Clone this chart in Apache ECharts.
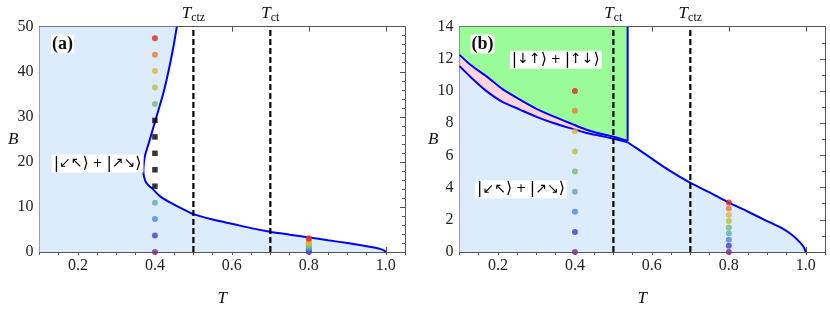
<!DOCTYPE html>
<html><head><meta charset="utf-8">
<script src="https://cdn.jsdelivr.net/npm/echarts@6/dist/echarts.min.js"></script>
<style>html,body{margin:0;padding:0;background:#fff}#c{width:830px;height:312px}</style>
</head><body><div id="c"></div>
<script>
// ---- data ----
const xMin = 0.1, xMax = 1.05;
const xMajorTicks = [0.2, 0.4, 0.6, 0.8, 1.0];
const aYMax = 50, bYMax = 14;

// panel (a) phase boundary
const aCurveT = [1.0, 0.995, 0.985, 0.97, 0.94, 0.9, 0.85, 0.8, 0.75, 0.699, 0.65, 0.603, 0.55, 0.5, 0.465, 0.439, 0.413, 0.395, 0.378, 0.372, 0.370, 0.371, 0.374, 0.387, 0.404, 0.422, 0.435, 0.448, 0.457];
const aCurveB = [0, 0.35, 0.7, 1.0, 1.45, 2.0, 2.6, 3.24, 3.85, 4.5, 5.3, 6.2, 7.2, 8.4, 9.85, 11.0, 12.4, 13.9, 15.3, 16.6, 18.0, 19.5, 21.3, 25, 30, 35.3, 40, 45.5, 50];

// panel (b) boundaries
const bUpperT = [0.1, 0.13, 0.171, 0.21, 0.257, 0.3, 0.344, 0.39, 0.43, 0.47, 0.5, 0.537];
const bUpperB = [12.25, 11.6, 10.9, 10.15, 9.47, 8.9, 8.43, 7.98, 7.6, 7.33, 7.16, 6.9];
const bLowerT = [0.1, 0.13, 0.171, 0.21, 0.257, 0.3, 0.344, 0.39, 0.43, 0.47, 0.5, 0.537];
const bLowerB = [11.55, 10.85, 9.98, 9.35, 8.85, 8.4, 8.02, 7.68, 7.4, 7.2, 7.04, 6.82];
const bRightT = [0.537, 0.56, 0.6, 0.638, 0.699, 0.75, 0.8, 0.85, 0.898, 0.94, 0.967, 0.985, 0.995, 1.0];
const bRightB = [6.82, 6.45, 5.8, 5.18, 4.31, 3.7, 3.07, 2.5, 1.94, 1.45, 1.01, 0.6, 0.3, 0];
const bVertT = [0.537, 0.537];
const bVertB = [6.9, 14];

// dashed critical temperatures
const aDashT = [0.5, 0.7];
const aDashNames = ['ctz', 'ct'];
const bDashT = [0.5, 0.7];
const bDashNames = ['ct', 'ctz'];

// dots
const dotColors = ['#7a2a8a', '#4b3fc0', '#4a8ae0', '#5fb0a8', '#7dbb65', '#b8c23c', '#e3b43c', '#ea7d2e', '#dc2a24'];
const aColT1 = 0.4;
const aColDotB = [0, 3.65, 7.3, 10.95, 32.85, 36.5, 40.15, 43.8, 47.45];
const aColSquareB = [14.6, 18.25, 21.9, 25.55, 29.2];
const colT2 = 0.8;
const col2B = [0, 0.39, 0.76, 1.16, 1.53, 1.92, 2.3, 2.7, 3.07];
const bColDotB = [0, 1.25, 2.5, 3.75, 5.0, 6.25, 7.5, 8.78, 10.0];

// ---- helpers ----
const zip = (xs, ys) => xs.map((x, i) => [x, ys[i]]);
const FRAME = '#555';
const SERIF = '"Liberation Serif", "DejaVu Serif", serif';

function polySeries(xi, yi, pts, color) {
  return {
    type: 'custom', xAxisIndex: xi, yAxisIndex: yi, z: 1, silent: true,
    data: [[pts[0][0], pts[0][1]]],
    renderItem: (params, api) => ({
      type: 'polygon',
      shape: { points: pts.map(p => api.coord(p)) },
      style: { fill: color, stroke: null }
    })
  };
}
function lineSeries(xi, yi, pts, extra) {
  return Object.assign({
    type: 'line', xAxisIndex: xi, yAxisIndex: yi, z: 3, silent: true,
    data: pts, showSymbol: false, smooth: 0.25,
    lineStyle: { color: '#0000ff', width: 2 }
  }, extra || {});
}
function dashSeries(xi, yi, t, ymax) {
  return {
    type: 'line', xAxisIndex: xi, yAxisIndex: yi, z: 4, silent: true,
    data: [[t, 0], [t, ymax]], showSymbol: false,
    lineStyle: { color: '#000', width: 2.2, type: [6, 3] }
  };
}
function dotSeries(xi, yi, t, bs, colors, symbol, size) {
  return {
    type: 'scatter', xAxisIndex: xi, yAxisIndex: yi, z: 5, silent: true,
    symbol: symbol || 'circle', symbolSize: size || 6,
    data: bs.map((b, i) => ({ value: [t, b], itemStyle: { color: Array.isArray(colors) ? colors[i] : colors } }))
  };
}
function xAxes(gi, dashT, dashNames) {
  const base = { gridIndex: gi, type: 'value', min: xMin, max: xMax, splitLine: { show: false } };
  return [
    Object.assign({}, base, {
      position: 'bottom', name: 'T', nameLocation: 'middle', nameGap: 38,
      nameTextStyle: { fontFamily: SERIF, fontStyle: 'italic', fontSize: 17, color: '#111' },
      axisLine: { show: true, onZero: false, lineStyle: { color: FRAME, width: 1 } },
      axisTick: { show: true, inside: true, length: 5, customValues: xMajorTicks, lineStyle: { color: FRAME } },
      axisLabel: { show: true, customValues: xMajorTicks, margin: 6, fontFamily: SERIF, fontSize: 16, color: '#222',
        formatter: v => v.toFixed(1) }
    }),
    Object.assign({}, base, {
      position: 'bottom', interval: 0.05,
      axisLine: { show: false }, axisLabel: { show: false },
      axisTick: { show: true, inside: true, length: 3, lineStyle: { color: FRAME } }
    }),
    Object.assign({}, base, {
      position: 'top',
      axisLine: { show: true, onZero: false, lineStyle: { color: FRAME, width: 1 } },
      axisTick: { show: true, inside: true, length: 5, customValues: xMajorTicks, lineStyle: { color: FRAME } },
      axisLabel: { show: true, customValues: dashT, margin: 3,
        formatter: v => '{t|T}{s|' + dashNames[dashT.findIndex(d => Math.abs(d - v) < 1e-6)] + '}',
        rich: {
          t: { fontFamily: SERIF, fontStyle: 'italic', fontSize: 17, color: '#111' },
          s: { fontFamily: SERIF, fontSize: 12, color: '#111', padding: [8, 0, 0, 0] }
        } }
    }),
    Object.assign({}, base, {
      position: 'top', interval: 0.05,
      axisLine: { show: false }, axisLabel: { show: false },
      axisTick: { show: true, inside: true, length: 3, lineStyle: { color: FRAME } }
    })
  ];
}
function yAxes(gi, ymax, interval, minorSplit) {
  const base = { gridIndex: gi, type: 'value', min: 0, max: ymax, interval: interval, splitLine: { show: false },
    axisLine: { show: true, onZero: false, lineStyle: { color: FRAME, width: 1 } },
    axisTick: { show: true, inside: true, length: 5, lineStyle: { color: FRAME } },
    minorTick: { show: true, splitNumber: minorSplit, length: 3, lineStyle: { color: FRAME } },
    minorSplitLine: { show: false } };
  return [
    Object.assign({}, base, {
      position: 'left', name: 'B', nameLocation: 'middle', nameRotate: 0, nameGap: 21, nameMoveOverlap: false,
      nameTextStyle: { fontFamily: SERIF, fontStyle: 'italic', fontSize: 17, color: '#111' },
      axisLabel: { show: true, margin: 6, fontFamily: SERIF, fontSize: 16, color: '#222' }
    }),
    Object.assign({}, base, { position: 'right', axisLabel: { show: false } })
  ];
}

// ---- fills ----
const aFill = zip(aCurveT, aCurveB).concat([[xMin, aYMax], [xMin, 0]]);
const bBlueFill = [[xMin, 0]].concat(zip(bLowerT, bLowerB)).concat(zip(bRightT, bRightB).slice(1));
const bPinkFill = zip(bUpperT, bUpperB).concat(zip(bLowerT, bLowerB).reverse());
const bGreenFill = [[xMin, bYMax]].concat(zip(bUpperT, bUpperB)).concat([[bVertT[1], bVertB[1]]]);

const series = [
  polySeries(0, 0, aFill, '#dcecfc'),
  lineSeries(0, 0, zip(aCurveT, aCurveB)),
  dashSeries(0, 0, aDashT[0], aYMax),
  dashSeries(0, 0, aDashT[1], aYMax),
  dotSeries(0, 0, aColT1, aColDotB, dotColors),
  dotSeries(0, 0, aColT1, aColSquareB, '#000', 'rect', 5.5),
  dotSeries(0, 0, colT2, col2B, dotColors),

  polySeries(4, 2, bBlueFill, '#dcecfc'),
  polySeries(4, 2, bPinkFill, '#ffd3dc'),
  polySeries(4, 2, bGreenFill, '#99fc99'),
  lineSeries(4, 2, zip(bUpperT, bUpperB)),
  lineSeries(4, 2, zip(bLowerT, bLowerB)),
  lineSeries(4, 2, zip(bRightT, bRightB)),
  lineSeries(4, 2, zip(bVertT, bVertB), { smooth: false }),
  dashSeries(4, 2, bDashT[0], bYMax),
  dashSeries(4, 2, bDashT[1], bYMax),
  dotSeries(4, 2, aColT1, bColDotB, dotColors),
  dotSeries(4, 2, colT2, col2B, dotColors)
];

const ketRich = {
  v: { fontFamily: '"DejaVu Sans"', fontSize: 16, color: '#222' },
  p: { fontFamily: '"DejaVu Sans"', fontSize: 12, color: '#222' },
  a: { fontFamily: '"DejaVu Sans"', fontSize: 14, color: '#333' },
  g: { fontFamily: '"DejaVu Sans"', fontSize: 14, color: '#777' }
};
function ket(x, y, text) {
  return { type: 'text', x: x, y: y, z: 20,
    style: { text: text, rich: ketRich, align: 'center', verticalAlign: 'middle',
      backgroundColor: '#fff', padding: [1, 2, 1, 2] } };
}
function tag(x, y, text) {
  return { type: 'text', x: x, y: y, z: 20,
    style: { text: text, font: 'bold 18px ' + SERIF, fill: '#111', align: 'center', verticalAlign: 'middle',
      backgroundColor: '#fff', padding: [1, 1, 0, 1] } };
}
const ketCanted = '{v||}{a|↙↖}{v|⟩}{p| + }{v||}{a|↗↘}{v|⟩}';
const ketUpDown = '{v||}{g|↓↑}{v|⟩}{p| + }{v||}{g|↑↓}{v|⟩}';

const option = {
  animation: false,
  backgroundColor: '#fff',
  grid: [
    { left: 39.5, top: 26.7, width: 365.5, height: 226.3 },
    { left: 459.5, top: 26.7, width: 365.5, height: 226.3 }
  ],
  xAxis: xAxes(0, aDashT, aDashNames).concat(xAxes(1, bDashT, bDashNames)),
  yAxis: yAxes(0, aYMax, 10, 5).concat(yAxes(1, bYMax, 2, 2)),
  series: series,
  graphic: [
    tag(62.5, 44, '(a)'),
    tag(482.5, 44, '(b)'),
    ket(97.6, 163.6, ketCanted),
    ket(521, 189.3, ketCanted),
    ket(555.8, 59.7, ketUpDown)
  ]
};
echarts.init(document.getElementById('c'), null, { renderer: 'canvas' }).setOption(option);
</script></body></html>
